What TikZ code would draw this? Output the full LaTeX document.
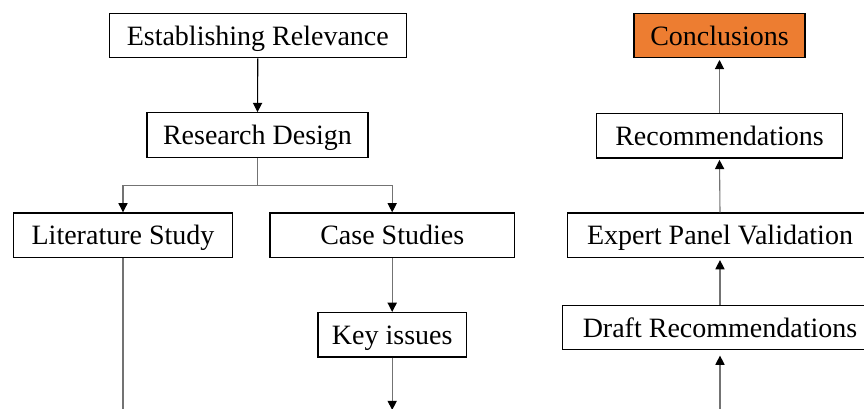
\documentclass[tikz,border=0pt]{standalone}
\usepackage{fontspec}
\setmainfont{Liberation Serif}
\usetikzlibrary{arrows.meta}
\definecolor{accent}{RGB}{237,125,49}
\tikzset{
  box/.style={draw=black, line width=0.65pt, fill=white, inner sep=0pt,
    minimum height=22.25pt, text height=12pt, text depth=2.5pt,
    font=\fontsize{14}{16}\selectfont},
  conn/.style={draw=black!55, line width=0.55pt,
    -{Triangle[length=4.6pt,width=4.6pt,color=black]}},
  plain/.style={draw=black!55, line width=0.55pt},
}
\begin{document}
\begin{tikzpicture}[x=0.5pt, y=-0.5pt]
  \clip (0,0) rectangle (864,408);
  \useasboundingbox (0,0) rectangle (864,408);

  % left column: research path
  \node[box, minimum width=148.5pt] (er) at (257.8,35.5) {Establishing Relevance};
  \node[box, minimum width=110.5pt] (rd) at (257.5,135) {Research Design};
  \node[box, minimum width=109.7pt] (ls) at (123,235.2) {Literature Study};
  \node[box, minimum width=122.2pt] (cs) at (392.2,235.2) {Case Studies};
  \node[box, minimum width=74.2pt] (ki) at (392.2,334.8) {Key issues};
  \coordinate (lsend) at (123,420);
  \coordinate (kiend) at (392.2,410);

  % right column: recommendations path
  \node[box, minimum width=85.5pt, fill=accent] (co) at (719.5,35.5) {Conclusions};
  \node[box, minimum width=122.8pt] (re) at (719.5,135.8) {Recommendations};
  \node[box, minimum width=152.3pt] (ep) at (720,235.2) {Expert Panel Validation};
  \node[box, minimum width=157.7pt] (dr) at (720,327.5) {Draft Recommendations};
  \coordinate (drstart) at (720,420);

  % connectors
  \draw[conn, draw=black] (er.south) -- (rd.north);
  \draw[conn] (rd.south) -- ++(0,28) -| (ls.north);
  \draw[conn] (rd.south) -- ++(0,28) -| (cs.north);
  \draw[plain] (ls.south) -- (lsend);
  \draw[conn] (cs.south) -- (ki.north);
  \draw[conn] (ki.south) -- (kiend);

  \draw[conn, shorten >=2.6pt] (drstart) -- (dr.south);
  \draw[conn, shorten >=1pt] (dr.north) -- (ep.south);
  \draw[conn, shorten >=0.6pt] (ep.north) -- (re.south);
  \draw[conn, shorten >=0.8pt] (re.north) -- (co.south);
\end{tikzpicture}
\end{document}
